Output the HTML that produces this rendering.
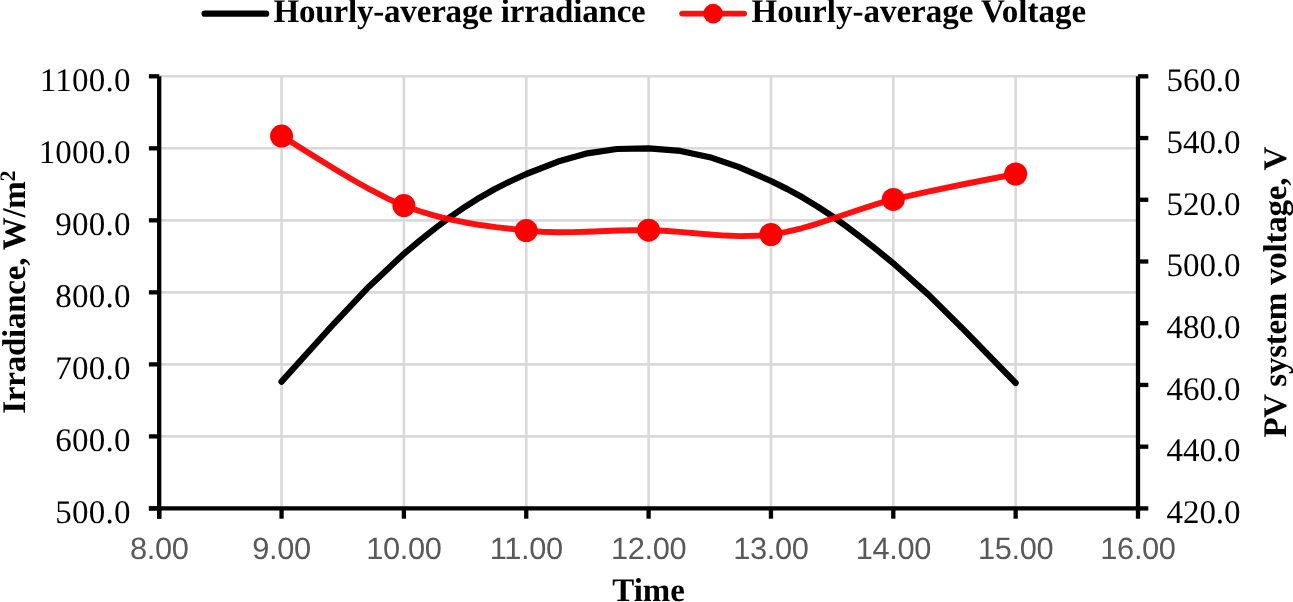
<!DOCTYPE html>
<html><head><meta charset="utf-8"><title>Chart</title>
<style>html,body{margin:0;padding:0;background:#fff;width:1293px;height:602px;overflow:hidden}svg{display:block;will-change:transform;text-rendering:geometricPrecision}</style>
</head><body><svg width="1293" height="602" viewBox="0 0 1293 602"><line x1="159.20" y1="436.38" x2="1138.00" y2="436.38" stroke="#d9d9d9" stroke-width="2.6"/><line x1="159.20" y1="364.37" x2="1138.00" y2="364.37" stroke="#d9d9d9" stroke-width="2.6"/><line x1="159.20" y1="292.35" x2="1138.00" y2="292.35" stroke="#d9d9d9" stroke-width="2.6"/><line x1="159.20" y1="220.33" x2="1138.00" y2="220.33" stroke="#d9d9d9" stroke-width="2.6"/><line x1="159.20" y1="148.32" x2="1138.00" y2="148.32" stroke="#d9d9d9" stroke-width="2.6"/><line x1="159.20" y1="76.30" x2="1138.00" y2="76.30" stroke="#d9d9d9" stroke-width="2.6"/><line x1="281.55" y1="76.30" x2="281.55" y2="508.40" stroke="#d9d9d9" stroke-width="2.6"/><line x1="403.90" y1="76.30" x2="403.90" y2="508.40" stroke="#d9d9d9" stroke-width="2.6"/><line x1="526.25" y1="76.30" x2="526.25" y2="508.40" stroke="#d9d9d9" stroke-width="2.6"/><line x1="648.60" y1="76.30" x2="648.60" y2="508.40" stroke="#d9d9d9" stroke-width="2.6"/><line x1="770.95" y1="76.30" x2="770.95" y2="508.40" stroke="#d9d9d9" stroke-width="2.6"/><line x1="893.30" y1="76.30" x2="893.30" y2="508.40" stroke="#d9d9d9" stroke-width="2.6"/><line x1="1015.65" y1="76.30" x2="1015.65" y2="508.40" stroke="#d9d9d9" stroke-width="2.6"/><line x1="159.20" y1="76.30" x2="159.20" y2="518.70" stroke="#000" stroke-width="4.3"/><line x1="1138.00" y1="76.30" x2="1138.00" y2="510.55" stroke="#000" stroke-width="4.3"/><line x1="148.90" y1="508.40" x2="1140.15" y2="508.40" stroke="#000" stroke-width="4.3"/><line x1="148.90" y1="508.40" x2="159.20" y2="508.40" stroke="#000" stroke-width="4.3"/><line x1="148.90" y1="436.38" x2="159.20" y2="436.38" stroke="#000" stroke-width="4.3"/><line x1="148.90" y1="364.37" x2="159.20" y2="364.37" stroke="#000" stroke-width="4.3"/><line x1="148.90" y1="292.35" x2="159.20" y2="292.35" stroke="#000" stroke-width="4.3"/><line x1="148.90" y1="220.33" x2="159.20" y2="220.33" stroke="#000" stroke-width="4.3"/><line x1="148.90" y1="148.32" x2="159.20" y2="148.32" stroke="#000" stroke-width="4.3"/><line x1="148.90" y1="76.30" x2="159.20" y2="76.30" stroke="#000" stroke-width="4.3"/><line x1="1138.00" y1="508.40" x2="1148.30" y2="508.40" stroke="#000" stroke-width="4.3"/><line x1="1138.00" y1="446.67" x2="1148.30" y2="446.67" stroke="#000" stroke-width="4.3"/><line x1="1138.00" y1="384.94" x2="1148.30" y2="384.94" stroke="#000" stroke-width="4.3"/><line x1="1138.00" y1="323.21" x2="1148.30" y2="323.21" stroke="#000" stroke-width="4.3"/><line x1="1138.00" y1="261.49" x2="1148.30" y2="261.49" stroke="#000" stroke-width="4.3"/><line x1="1138.00" y1="199.76" x2="1148.30" y2="199.76" stroke="#000" stroke-width="4.3"/><line x1="1138.00" y1="138.03" x2="1148.30" y2="138.03" stroke="#000" stroke-width="4.3"/><line x1="1138.00" y1="76.30" x2="1148.30" y2="76.30" stroke="#000" stroke-width="4.3"/><line x1="159.20" y1="508.40" x2="159.20" y2="518.70" stroke="#000" stroke-width="4.3"/><line x1="281.55" y1="508.40" x2="281.55" y2="518.70" stroke="#000" stroke-width="4.3"/><line x1="403.90" y1="508.40" x2="403.90" y2="518.70" stroke="#000" stroke-width="4.3"/><line x1="526.25" y1="508.40" x2="526.25" y2="518.70" stroke="#000" stroke-width="4.3"/><line x1="648.60" y1="508.40" x2="648.60" y2="518.70" stroke="#000" stroke-width="4.3"/><line x1="770.95" y1="508.40" x2="770.95" y2="518.70" stroke="#000" stroke-width="4.3"/><line x1="893.30" y1="508.40" x2="893.30" y2="518.70" stroke="#000" stroke-width="4.3"/><line x1="1015.65" y1="508.40" x2="1015.65" y2="518.70" stroke="#000" stroke-width="4.3"/><line x1="1138.00" y1="508.40" x2="1138.00" y2="518.70" stroke="#000" stroke-width="4.3"/><path d="M281.55,381.70 L334.24,323.29 L368.87,286.67 L403.90,253.80 L420.30,240.14 L435.75,227.87 L450.57,216.81 L465.07,206.81 L479.58,197.69 L494.40,189.30 L509.85,181.46 L526.25,174.00 L558.10,161.57 L587.42,153.35 L616.75,149.02 L648.60,148.30 L680.45,150.96 L709.77,157.16 L739.10,167.10 L770.95,181.00 L787.35,189.11 L802.80,197.58 L817.62,206.54 L832.12,216.11 L846.63,226.45 L861.45,237.67 L876.90,249.91 L893.30,263.30 L928.33,294.65 L962.96,328.86 L1015.65,383.00" fill="none" stroke="#000" stroke-width="6.2" stroke-linecap="round" stroke-linejoin="round"/><path d="M281.55,136.10 L290.99,141.77 L303.53,149.63 L335.08,169.29 L352.64,179.74 L370.44,189.72 L387.77,198.57 L396.03,202.35 L403.90,205.60 L419.19,211.03 L434.49,215.57 L449.78,219.35 L465.08,222.47 L480.37,225.04 L495.66,227.18 L526.25,230.60 L541.54,231.73 L556.84,232.18 L572.13,232.10 L587.42,231.69 L618.01,230.56 L633.31,230.20 L648.60,230.20 L663.89,230.78 L679.19,231.87 L709.77,234.52 L725.07,235.57 L740.36,236.09 L755.66,235.82 L763.30,235.30 L770.95,234.50 L778.60,233.37 L786.24,231.93 L801.54,228.27 L816.83,223.80 L832.12,218.81 L862.71,208.42 L878.01,203.59 L893.30,199.40 L926.76,191.77 L962.12,184.51 L1015.65,174.00" fill="none" stroke="#ff0000" stroke-opacity="0.94" stroke-width="5.9" stroke-linecap="round" stroke-linejoin="round"/><circle cx="281.55" cy="136.10" r="11.5" fill="#ff0000"/><circle cx="403.90" cy="205.60" r="11.5" fill="#ff0000"/><circle cx="526.25" cy="230.60" r="11.5" fill="#ff0000"/><circle cx="648.60" cy="230.20" r="11.5" fill="#ff0000"/><circle cx="770.95" cy="234.50" r="11.5" fill="#ff0000"/><circle cx="893.30" cy="199.40" r="11.5" fill="#ff0000"/><circle cx="1015.65" cy="174.00" r="11.5" fill="#ff0000"/><line x1="204.6" y1="13.7" x2="266.1" y2="13.7" stroke="#000" stroke-width="6.2" stroke-linecap="round"/><line x1="682.2" y1="13.6" x2="744.1" y2="13.6" stroke="#ff0000" stroke-opacity="0.94" stroke-width="5.9" stroke-linecap="round"/><circle cx="713.1" cy="13.6" r="9.8" fill="#ff0000"/><text x="273.5" y="21.7" style="font-family:'Liberation Serif',serif;font-weight:bold;font-size:33px;letter-spacing:-0.183px">Hourly-average irradiance</text><text x="751.6" y="21.7" style="font-family:'Liberation Serif',serif;font-weight:bold;font-size:33px">Hourly-average Voltage</text><text x="130.6" y="523.20" text-anchor="end" style="font-family:'Liberation Serif',serif;font-size:33px;letter-spacing:0.2px">500.0</text><text x="130.6" y="451.18" text-anchor="end" style="font-family:'Liberation Serif',serif;font-size:33px;letter-spacing:0.2px">600.0</text><text x="130.6" y="379.17" text-anchor="end" style="font-family:'Liberation Serif',serif;font-size:33px;letter-spacing:0.2px">700.0</text><text x="130.6" y="307.15" text-anchor="end" style="font-family:'Liberation Serif',serif;font-size:33px;letter-spacing:0.2px">800.0</text><text x="130.6" y="235.13" text-anchor="end" style="font-family:'Liberation Serif',serif;font-size:33px;letter-spacing:0.2px">900.0</text><text x="130.6" y="163.12" text-anchor="end" style="font-family:'Liberation Serif',serif;font-size:33px;letter-spacing:0.2px">1000.0</text><text x="130.6" y="91.10" text-anchor="end" style="font-family:'Liberation Serif',serif;font-size:33px;letter-spacing:0.2px">1100.0</text><text x="1166.6" y="523.20" style="font-family:'Liberation Serif',serif;font-size:33px;letter-spacing:-0.1px">420.0</text><text x="1166.6" y="461.47" style="font-family:'Liberation Serif',serif;font-size:33px;letter-spacing:-0.1px">440.0</text><text x="1166.6" y="399.74" style="font-family:'Liberation Serif',serif;font-size:33px;letter-spacing:-0.1px">460.0</text><text x="1166.6" y="338.01" style="font-family:'Liberation Serif',serif;font-size:33px;letter-spacing:-0.1px">480.0</text><text x="1166.6" y="276.29" style="font-family:'Liberation Serif',serif;font-size:33px;letter-spacing:-0.1px">500.0</text><text x="1166.6" y="214.56" style="font-family:'Liberation Serif',serif;font-size:33px;letter-spacing:-0.1px">520.0</text><text x="1166.6" y="152.83" style="font-family:'Liberation Serif',serif;font-size:33px;letter-spacing:-0.1px">540.0</text><text x="1166.6" y="91.10" style="font-family:'Liberation Serif',serif;font-size:33px;letter-spacing:-0.1px">560.0</text><text x="159.20" y="559.4" text-anchor="middle" fill="#595959" style="font-family:'Liberation Sans',sans-serif;font-size:30.8px;letter-spacing:-0.35px">8.00</text><text x="281.55" y="559.4" text-anchor="middle" fill="#595959" style="font-family:'Liberation Sans',sans-serif;font-size:30.8px;letter-spacing:-0.35px">9.00</text><text x="403.90" y="559.4" text-anchor="middle" fill="#595959" style="font-family:'Liberation Sans',sans-serif;font-size:30.8px;letter-spacing:-0.35px">10.00</text><text x="526.25" y="559.4" text-anchor="middle" fill="#595959" style="font-family:'Liberation Sans',sans-serif;font-size:30.8px;letter-spacing:-0.35px">11.00</text><text x="648.60" y="559.4" text-anchor="middle" fill="#595959" style="font-family:'Liberation Sans',sans-serif;font-size:30.8px;letter-spacing:-0.35px">12.00</text><text x="770.95" y="559.4" text-anchor="middle" fill="#595959" style="font-family:'Liberation Sans',sans-serif;font-size:30.8px;letter-spacing:-0.35px">13.00</text><text x="893.30" y="559.4" text-anchor="middle" fill="#595959" style="font-family:'Liberation Sans',sans-serif;font-size:30.8px;letter-spacing:-0.35px">14.00</text><text x="1015.65" y="559.4" text-anchor="middle" fill="#595959" style="font-family:'Liberation Sans',sans-serif;font-size:30.8px;letter-spacing:-0.35px">15.00</text><text x="1138.00" y="559.4" text-anchor="middle" fill="#595959" style="font-family:'Liberation Sans',sans-serif;font-size:30.8px;letter-spacing:-0.35px">16.00</text><text x="648.6" y="600.7" text-anchor="middle" style="font-family:'Liberation Serif',serif;font-weight:bold;font-size:33px">Time</text><text transform="translate(24.8,413.8) rotate(-90)" x="0" y="0" style="font-family:'Liberation Serif',serif;font-weight:bold;font-size:33px;letter-spacing:-0.23px">Irradiance, W/m<tspan dy="-10.3" style="font-size:22px">2</tspan></text><text transform="translate(1286,437.6) rotate(-90)" x="0" y="0" style="font-family:'Liberation Serif',serif;font-weight:bold;font-size:33px;letter-spacing:-0.25px">PV system voltage, V</text></svg></body></html>
